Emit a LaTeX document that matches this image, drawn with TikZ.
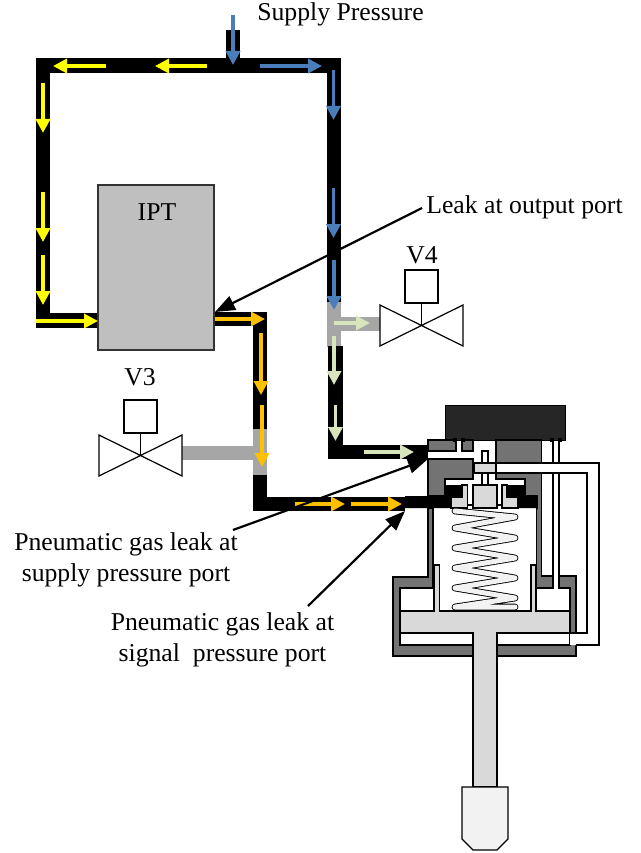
\documentclass[tikz,border=0pt]{standalone}
\usepackage{fontspec}
\setmainfont{Liberation Serif}
\usetikzlibrary{arrows.meta}
\definecolor{blueflow}{HTML}{4A7EBB}
\definecolor{greenflow}{HTML}{D7E4BC}
\definecolor{orangeflow}{HTML}{FFC000}
\definecolor{yellowflow}{HTML}{FFFF00}
\definecolor{pipegray}{HTML}{A6A6A6}
\definecolor{iptgray}{HTML}{BFBFBF}
\definecolor{bodygray}{HTML}{737373}
\definecolor{partgray}{HTML}{D9D9D9}
\definecolor{tipgray}{HTML}{F2F2F2}
\tikzset{
  pipe/.style={line width=14.5pt,black},
  ventpipe/.style={line width=14.5pt,pipegray},
  flow/.style={line width=3.4pt,-{Triangle[length=14pt,width=14pt]}},
  leak/.style={line width=2.2pt,-{Triangle[length=20pt,width=15pt]}},
  txt/.style={font=\fontsize{25.7}{31}\selectfont,inner sep=0pt},
  body/.style={draw=black,line width=1.2pt,fill=bodygray},
  part/.style={draw=black,line width=1.2pt,fill=partgray},
  hole/.style={draw=black,line width=1.2pt,fill=white},
  valve/.style={draw=black,line width=1.2pt,fill=white}
}
\begin{document}
\begin{tikzpicture}[x=1pt,y=-1pt]
  \useasboundingbox (0,0) rectangle (640,853);
  \path
    (233,30) coordinate (feed)
    (233,65.5) coordinate (tee)
    (43,65.5) coordinate (corner1)
    (43,320.5) coordinate (corner2)
    (98,320.5) coordinate (iptin)
    (334,65.5) coordinate (corner3)
    (334,302) coordinate (vent4a)
    (334,324) coordinate (vent4b)
    (334,347) coordinate (vent4c)
    (335.5,346) coordinate (out1)
    (335.5,452) coordinate (out2)
    (428,452) coordinate (out3)
    (214,319) coordinate (iptout)
    (260,319) coordinate (sig1)
    (260,429) coordinate (vent3a)
    (260,453) coordinate (vent3b)
    (260,475) coordinate (vent3c)
    (260,504) coordinate (sig2)
    (405,504) coordinate (sig3)
    (380,324) coordinate (v4in)
    (182,453) coordinate (v3in);
  % pipes
  \draw[pipe] (iptin) -- (corner2) -- (corner1) -- (corner3) -- (vent4a);
  \draw[pipe] (feed) to (tee);
  \draw[ventpipe] (vent4a) to (vent4c);
  \draw[ventpipe] (vent4b) to (v4in);
  \draw[pipe] (out1) -- (out2) -- (out3);
  \draw[pipe] (iptout) -- (sig1) -- (vent3a);
  \draw[ventpipe] (vent3a) to (vent3c);
  \draw[ventpipe] (v3in) to (vent3b);
  \draw[pipe] (vent3c) -- (sig2) -- (sig3);
  % IPT
  \node[draw=black!80,line width=1.2pt,fill=iptgray,minimum width=116pt,minimum height=165pt,inner sep=0pt] (ipt) at (156,267.5) {};
  \node[txt,anchor=base] (ipttxt) at (157,220.5) {IPT};
  % valves
  \node[valve,minimum size=33pt,inner sep=0pt] (v3box) at (140.5,416.5) {};
  \coordinate (v3mid) at (140.5,455.5);
  \draw[valve] (99,435) -- (182,476) -- (182,435) -- (99,476) -- cycle;
  \draw[line width=1.2pt] (v3box) to (v3mid);
  \node[txt,anchor=base] (v3txt) at (140,385) {V3};
  \node[valve,minimum size=33pt,inner sep=0pt] (v4box) at (421.5,286.5) {};
  \coordinate (v4mid) at (421.5,325.5);
  \draw[valve] (380,305) -- (463,346) -- (463,305) -- (380,346) -- cycle;
  \draw[line width=1.2pt] (v4box) to (v4mid);
  \node[txt,anchor=base] (v4txt) at (422,263) {V4};
  % actuator
  \fill[black] (405,496) -- (445,496) -- (445,485) -- (462,485) -- (462,497) -- (451,497) -- (451,508) -- (405,508) -- cycle;
  \fill[black] (507,485) -- (525,485) -- (525,496) -- (537,496) -- (537,508) -- (518,508) -- (518,497) -- (507,497) -- cycle;
  \fill[black!85] (445,405) rectangle (565,440);
  \draw[black] (445,405) rectangle (565,440);
  \draw[body] (428,440) rectangle (456,451);
  \draw[body] (462,440) rectangle (473,451);
  \draw[body] (428,459) -- (473,459) -- (473,479) -- (445,479) -- (445,496) -- (428,496) -- cycle;
  \draw[body] (496,440) -- (541.7,440) -- (541.7,576) -- (553,576) -- (553,588) -- (536.5,588) -- (536.5,508) -- (537,508) -- (537,496) -- (525,496) -- (525,479) -- (496,479) -- cycle;
  \draw[body] (428,508) -- (433,508) -- (433,588) -- (400,588) -- (400,645) -- (570,645) -- (570,588) -- (559,588) -- (559,576) -- (576,576) -- (576,656) -- (393,656) -- (393,577) -- (428,577) -- cycle;
  \draw[black,line width=1.2pt] (553,440) -- (553,588);
  \draw[black,line width=1.2pt] (559,440) -- (559,588);
  \fill[black] (453.3,438.3) rectangle (456.7,441.7);
  \fill[black] (461.3,438.3) rectangle (464.7,441.7);
  \fill[black] (550.3,438.3) rectangle (553.7,441.7);
  \fill[black] (558.3,438.3) rectangle (561.7,441.7);
  % signal tube
  \fill[white] (496,463) -- (599,463) -- (599,645) -- (570,645) -- (570,633) -- (587,633) -- (587,473) -- (496,473) -- cycle;
  \draw[black,line width=1.2pt] (496,463) -- (599,463) -- (599,645) -- (576,645);
  \draw[black,line width=1.2pt] (496,473) -- (587,473) -- (587,633) -- (570,633);
  \draw[part] (474,463) rectangle (496,473);
  \draw[hole] (482,463) rectangle (488,451);
  \draw[black,line width=1.2pt] (445.6,479) -- (473,479);
  \draw[black,line width=1.2pt] (496,479) -- (525,479);
  \draw[hole] (482,473) rectangle (488,485);
  \draw[part] (451,497) -- (462,497) -- (462,485) -- (467.5,485) -- (467.5,508) -- (451,508) -- cycle;
  \draw[part] (502,485) -- (507,485) -- (507,497) -- (518,497) -- (518,508) -- (502,508) -- cycle;
  \draw[part] (473,485) rectangle (497,508);
  \draw[black,line width=1.2pt] (467.5,505) -- (473,505);
  \draw[black,line width=1.2pt] (497,505) -- (502,505);
  % spring
  \draw[black,line width=6.8pt,line cap=round,line join=round] (455,511) -- (515,517) -- (455,528) -- (515,538) -- (455,548) -- (515,558) -- (455,568) -- (515,578) -- (455,588) -- (515,598) -- (455,607) -- (515,607);
  \draw[tipgray,line width=5pt,line cap=round,line join=round] (455,511) -- (515,517) -- (455,528) -- (515,538) -- (455,548) -- (515,558) -- (455,568) -- (515,578) -- (455,588) -- (515,598) -- (455,607) -- (515,607);
  % piston and rod
  \draw[part] (434,565) -- (439.3,565) -- (439.3,611) -- (531,611) -- (531,565) -- (536,565) -- (536,611) -- (570,611) -- (570,633) -- (497,633) -- (497,787) -- (473,787) -- (473,633) -- (400,633) -- (400,611) -- (434,611) -- cycle;
  \draw[black,line width=1.2pt,fill=tipgray] (462,787) -- (508,787) -- (508,839) -- (497,850) -- (473,850) -- (462,839) -- cycle;
  % flow
  \path
    (233,15) coordinate (b1a) (233,65) coordinate (b1b)
    (260,66) coordinate (b2a) (322,66) coordinate (b2b)
    (333.5,70) coordinate (b3a) (333.5,120) coordinate (b3b)
    (333.5,188) coordinate (b4a) (333.5,238) coordinate (b4b)
    (334,260) coordinate (b5a) (334,310) coordinate (b5b)
    (207,66) coordinate (y1a) (155,66) coordinate (y1b)
    (106,66) coordinate (y2a) (53,66) coordinate (y2b)
    (43,83) coordinate (y3a) (43,133) coordinate (y3b)
    (43,192) coordinate (y4a) (43,242) coordinate (y4b)
    (43,255) coordinate (y5a) (43,305) coordinate (y5b)
    (36,321) coordinate (y6a) (98,321) coordinate (y6b)
    (215,319) coordinate (o1a) (265,319) coordinate (o1b)
    (261,333) coordinate (o2a) (261,395) coordinate (o2b)
    (262,405) coordinate (o3a) (262,467) coordinate (o3b)
    (295,504) coordinate (o4a) (345,504) coordinate (o4b)
    (351,504) coordinate (o5a) (402,504) coordinate (o5b)
    (334,323) coordinate (g1a) (370,323) coordinate (g1b)
    (334,336) coordinate (g2a) (334,385) coordinate (g2b)
    (335.5,405) coordinate (g3a) (335.5,441) coordinate (g3b)
    (364,452) coordinate (g4a) (414,452) coordinate (g4b);
  \begin{scope}[flow,blueflow]
    \draw (b1a) to (b1b);
    \draw (b2a) to (b2b);
    \draw (b3a) to (b3b);
    \draw (b4a) to (b4b);
    \draw (b5a) to (b5b);
  \end{scope}
  \begin{scope}[flow,yellowflow]
    \draw (y1a) to (y1b);
    \draw (y2a) to (y2b);
    \draw (y3a) to (y3b);
    \draw (y4a) to (y4b);
    \draw (y5a) to (y5b);
    \draw (y6a) to (y6b);
  \end{scope}
  \begin{scope}[flow,orangeflow]
    \draw (o1a) to (o1b);
    \draw (o2a) to (o2b);
    \draw (o3a) to (o3b);
    \draw (o4a) to (o4b);
    \draw (o5a) to (o5b);
  \end{scope}
  \begin{scope}[flow,greenflow]
    \draw (g1a) to (g1b);
    \draw (g2a) to (g2b);
    \draw (g3a) to (g3b);
    \draw (g4a) to (g4b);
  \end{scope}
  % labels
  \node[txt,anchor=base] (supply) at (340.5,21) {Supply Pressure};
  \node[txt,anchor=base] (leakout) at (524.5,213) {Leak at output port};
  \node[txt,align=center] (leaksup) at (126,560) {Pneumatic gas leak at\\supply pressure port};
  \node[txt,align=center] (leaksig) at (222.5,640) {Pneumatic gas leak at\\signal\ \ pressure port};
  \path
    (422,208) coordinate (lo)
    (215,312) coordinate (loend)
    (233,530) coordinate (ls)
    (428,459) coordinate (lsend)
    (308,606) coordinate (lg)
    (405,511) coordinate (lgend);
  \draw[leak] (lo) to (loend);
  \draw[leak] (ls) to (lsend);
  \draw[leak] (lg) to (lgend);
\end{tikzpicture}
\end{document}
